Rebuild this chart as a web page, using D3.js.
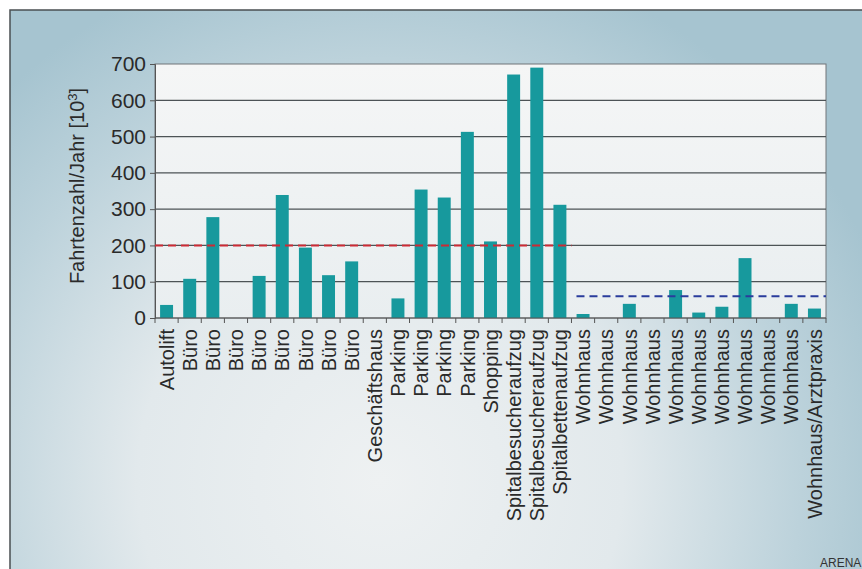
<!DOCTYPE html>
<html>
<head>
<meta charset="utf-8">
<script src="https://cdn.jsdelivr.net/npm/d3@7"></script>
<style>
  body { margin: 0; background: #fff; }
  svg { display: block; font-family: "Liberation Sans", Arial, Helvetica, sans-serif; }
</style>
</head>
<body>
<div id="chart"></div>
<script>
// data
const categories = ["Autolift", "Büro", "Büro", "Büro", "Büro", "Büro", "Büro", "Büro", "Büro",
  "Geschäftshaus", "Parking", "Parking", "Parking", "Parking", "Shopping",
  "Spitalbesucheraufzug", "Spitalbesucheraufzug", "Spitalbettenaufzug",
  "Wohnhaus", "Wohnhaus", "Wohnhaus", "Wohnhaus", "Wohnhaus", "Wohnhaus", "Wohnhaus",
  "Wohnhaus", "Wohnhaus", "Wohnhaus", "Wohnhaus/Arztpraxis"];
const values = [36, 108, 278, 0, 116, 339, 194, 118, 156,
  0, 54, 354, 332, 513, 211,
  671, 690, 312,
  11, 0, 39, 0, 77, 15, 31, 165, 0, 39, 26];
const yTicks = [0, 100, 200, 300, 400, 500, 600, 700];
// mean lines: [first index, last index, value]
const meanCommercial = [0, 17, 200];
const meanResidential = [18, 28, 60];

const W = 862, H = 569;
const margin = {top: 64, right: 36, bottom: 251, left: 155},
  width = W - margin.left - margin.right,
  height = H - margin.top - margin.bottom;

const svg = d3.select("#chart").append("svg")
  .attr("width", W).attr("height", H);

const defs = svg.append("defs");
const bg = defs.append("radialGradient").attr("id", "bg")
  .attr("gradientUnits", "userSpaceOnUse")
  .attr("cx", 380).attr("cy", 480).attr("r", 540);
bg.append("stop").attr("offset", "0").attr("stop-color", "#eef1f2");
bg.append("stop").attr("offset", "0.45").attr("stop-color", "#e2e9ec");
bg.append("stop").attr("offset", "0.78").attr("stop-color", "#bcd2db");
bg.append("stop").attr("offset", "1").attr("stop-color", "#a6c4d0");

const pg = defs.append("linearGradient").attr("id", "plotbg")
  .attr("x1", 0).attr("y1", 0).attr("x2", 0).attr("y2", 1);
pg.append("stop").attr("offset", "0").attr("stop-color", "#f5f6f6");
pg.append("stop").attr("offset", "1").attr("stop-color", "#e9eef0");

// card background + frame
svg.append("rect")
  .attr("x", 10).attr("y", 10).attr("width", W).attr("height", H)
  .attr("fill", "url(#bg)")
  .attr("stroke", "#4a4f52").attr("stroke-width", 1.5);

const g = svg.append("g")
  .attr("transform", "translate(" + margin.left + "," + margin.top + ")");

const x = d3.scaleBand()
  .domain(d3.range(categories.length))
  .range([0, width])
  .paddingInner(0.44).paddingOuter(0.22);

const y = d3.scaleLinear().domain([0, 700]).range([height, 0]);

g.append("rect")
  .attr("width", width).attr("height", height)
  .attr("fill", "url(#plotbg)")
  .attr("stroke", "#707578").attr("stroke-width", 1);

// grid
g.selectAll(".grid").data(yTicks.filter(d => d > 0 && d < 700)).enter()
  .append("line")
  .attr("x1", 0).attr("x2", width)
  .attr("y1", d => y(d)).attr("y2", d => y(d))
  .attr("stroke", "#4d5356").attr("stroke-width", 1.2);

// y axis
const yAxis = g.append("g")
  .call(d3.axisLeft(y).tickValues(yTicks).tickSize(5).tickPadding(4));
yAxis.select(".domain").attr("stroke", "#555");
yAxis.selectAll(".tick line").attr("stroke", "#555");
yAxis.selectAll("text").attr("font-size", 21).attr("fill", "#2a2a2a")
  .attr("font-family", "Liberation Sans, Arial, sans-serif");

// bars
g.selectAll(".bar").data(values).enter()
  .append("rect")
  .attr("x", (d, i) => x(i))
  .attr("y", d => y(d))
  .attr("width", x.bandwidth())
  .attr("height", d => height - y(d))
  .attr("fill", "#17999d");

// mean lines
const step = x.step();
function meanLine(m, color, x0off) {
  g.append("line")
    .attr("x1", x(m[0]) - (step - x.bandwidth()) / 2 + x0off)
    .attr("x2", x(m[1]) + x.bandwidth() + (step - x.bandwidth()) / 2)
    .attr("y1", y(m[2])).attr("y2", y(m[2]))
    .attr("stroke", color).attr("stroke-width", 2)
    .attr("stroke-dasharray", "8,5");
}
meanLine(meanCommercial, "#cc2a35", 0);
meanLine(meanResidential, "#2a3c9c", 5);

// x axis: ticks at band boundaries
const xAxis = g.append("g").attr("transform", "translate(0," + height + ")");
xAxis.append("line").attr("x1", 0).attr("x2", width)
  .attr("stroke", "#555");
xAxis.selectAll(".xt").data(d3.range(categories.length + 1)).enter()
  .append("line")
  .attr("x1", i => i * step).attr("x2", i => i * step)
  .attr("y1", 0).attr("y2", 5)
  .attr("stroke", "#555");
xAxis.selectAll(".xl").data(categories).enter()
  .append("text")
  .attr("transform", (d, i) => "translate(" + (x(i) + x.bandwidth() / 2) + ",11) rotate(-90)")
  .attr("dy", "0.36em")
  .attr("text-anchor", "end")
  .attr("font-size", 20)
  .attr("fill", "#2a2a2a")
  .text(d => d);

// y title
const yt = svg.append("text")
  .attr("transform", "translate(84,186) rotate(-90)")
  .attr("text-anchor", "middle")
  .attr("font-size", 20)
  .attr("fill", "#2a2a2a");
yt.append("tspan").text("Fahrtenzahl/Jahr [10");
yt.append("tspan").attr("baseline-shift", "super").attr("font-size", 13).text("3");
yt.append("tspan").text("]");

svg.append("text")
  .attr("x", 820).attr("y", 567)
  .attr("font-size", 12).attr("fill", "#333")
  .text("ARENA");
</script>
</body>
</html>
